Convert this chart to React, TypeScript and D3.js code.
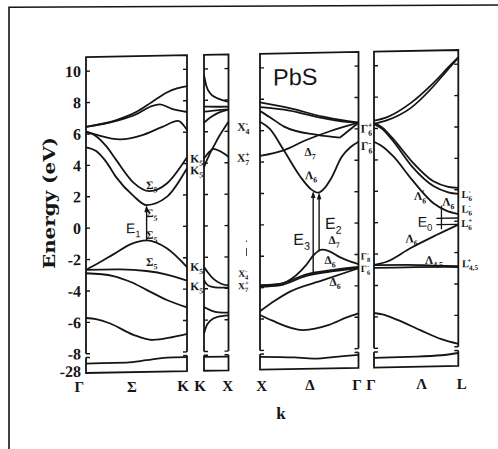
import React from 'react';
import * as d3 from 'd3';

type Pt = [number, number];

// energies in eV, k runs 0..1 across each panel

// Γ → Σ → K
const gkBands: Pt[][] = [
  [[0, 6.46], [0.3, 6.85], [0.5, 7.35], [0.65, 7.95], [0.8, 8.55], [0.9, 8.8], [1, 8.93]],
  [[0, 6.46], [0.3, 6.8], [0.5, 7.2], [0.65, 7.7], [0.73, 7.8], [0.85, 7.5], [1, 7.28]],
  [[0, 6.15], [0.1, 5.95], [0.34, 5.62], [0.55, 5.85], [0.75, 6.35], [0.91, 6.72], [1, 6.13]],
  [[0, 6.15], [0.1, 5.85], [0.2, 5.2], [0.3, 4.3], [0.47, 2.85], [0.63, 2.28], [0.8, 2.75], [1, 4.4]],
  [[0, 5.15], [0.1, 4.9], [0.2, 4.2], [0.3, 3.2], [0.47, 2.0], [0.6, 1.4], [0.8, 1.9], [1, 3.7]],
  [[0, -2.66], [0.12, -2.25], [0.27, -1.7], [0.45, -1.05], [0.6, -0.85], [0.8, -1.38], [1, -2.6]],
  [[0, -2.66], [0.3, -2.66], [0.6, -2.8], [0.8, -3.05], [1, -3.46]],
  [[0, -2.87], [0.27, -3.08], [0.45, -3.5], [0.6, -4.0], [0.8, -4.67], [1, -5.16]],
  [[0, -5.72], [0.1, -5.8], [0.24, -6.1], [0.47, -6.85], [0.66, -7.2], [0.85, -7.05], [1, -6.85]],
];
const gkCore: Pt[] = [[0, -27.37], [0.4, -27.35], [0.6, -27.2], [0.8, -27.03], [1, -27.02]];

// K → X
const kxBands: Pt[][] = [
  [[0, 9.6], [0.1, 8.9], [0.25, 8.45], [0.5, 8.15], [0.75, 8.0], [1, 7.88]],
  [[0, 7.6], [0.5, 7.58], [1, 7.57]],
  [[0, 7.28], [0.5, 7.35], [1, 7.4]],
  [[0, 6.58], [0.3, 6.95], [0.6, 7.2], [1, 7.38]],
  [[0, 4.3], [0.18, 4.65], [0.31, 4.85], [0.6, 5.65], [1, 6.61]],
  [[0, 3.75], [0.15, 4.3], [0.38, 4.9], [0.65, 4.75], [1, 4.38]],
  [[0, -2.62], [0.15, -2.95], [0.4, -3.4], [0.7, -3.7], [1, -3.82]],
  [[0, -3.46], [0.1, -3.7], [0.3, -3.88], [0.6, -3.95], [1, -3.96]],
  [[0, -5.16], [0.3, -5.4], [0.6, -5.52], [1, -5.55]],
  [[0, -6.85], [0.08, -6.45], [0.25, -6.05], [0.55, -5.8], [1, -5.72]],
];
const kxCore: Pt[] = [[0, -27.02], [1, -27.04]];

// X → Δ → Γ
const xgBands: Pt[][] = [
  [[0, 7.8], [0.3, 7.4], [0.64, 6.82], [0.85, 6.55], [1, 6.39]],
  [[0, 7.5], [0.3, 7.25], [0.64, 6.72], [0.85, 6.48], [1, 6.39]],
  [[0, 7.25], [0.1, 6.85], [0.24, 6.25], [0.58, 5.66], [0.81, 5.46]],
  [[0.81, 5.46], [1, 6.39]],
  [[0, 6.57], [0.1, 6.1], [0.24, 4.74], [0.41, 3.02], [0.52, 2.2], [0.59, 1.98], [0.66, 2.3], [0.72, 2.85], [0.83, 4.24], [0.92, 4.85], [1, 5.18]],
  [[0, 4.4], [0.24, 4.72], [0.47, 5.35], [0.71, 5.88], [1, 6.39]],
  [[0, -3.85], [0.2, -3.78], [0.47, -3.2], [0.75, -2.95], [1, -2.8]],
  [[0, -3.95], [0.2, -3.88], [0.47, -3.3], [0.75, -3.03], [1, -2.88]],
  [[0, -3.85], [0.15, -3.83], [0.27, -3.65], [0.47, -2.6], [0.55, -1.95], [0.63, -1.65], [0.7, -1.75], [0.81, -2.15], [0.92, -2.45], [1, -2.62]],
  [[0, -5.5], [0.15, -4.85], [0.3, -4.3], [0.64, -3.6], [1, -2.88]],
  [[0, -5.74], [0.12, -6.1], [0.44, -6.75], [0.7, -6.45], [0.88, -6.0], [1, -5.75]],
];
const xgCore: Pt[] = [[0, -27.1], [0.35, -27.2], [0.55, -27.32], [0.8, -27.2], [1, -27.1]];

// Γ → Λ → L
const glBands: Pt[][] = [
  [[0, 6.5], [0.15, 6.7], [0.43, 7.56], [0.7, 8.81], [0.88, 9.8], [1, 10.45]],
  [[0, 6.3], [0.15, 6.5], [0.43, 7.24], [0.7, 8.59], [0.88, 9.7], [1, 10.4]],
  [[0, 6.35], [0.1, 6.05], [0.23, 5.3], [0.45, 3.85], [0.71, 2.55], [0.88, 2.2], [1, 2.12]],
  [[0, 6.3], [0.1, 5.95], [0.23, 5.15], [0.45, 3.55], [0.71, 2.25], [0.88, 1.85], [1, 1.73]],
  [[0, 5.16], [0.1, 4.85], [0.23, 4.2], [0.45, 2.7], [0.71, 1.15], [0.85, 0.7], [1, 0.45]],
  [[0, -2.69], [0.15, -2.5], [0.43, -1.67], [0.74, -0.86], [1, -0.22]],
  [[0, -2.7], [0.4, -2.72], [0.7, -2.8], [1, -2.86]],
  [[0, -2.88], [0.5, -2.88], [1, -2.92]],
  [[0, -5.75], [0.1, -5.85], [0.27, -6.2], [0.55, -6.9], [0.8, -7.5], [1, -7.82]],
];
const glCore: Pt[] = [[0, -27.35], [0.5, -27.32], [0.8, -27.25], [1, -27.1]];

// optical transitions: panel, k, lower and upper energy
const transitions = [
  { name: 'E1', panel: 0, k: 0.6, from: -0.85, to: 1.4 },
  { name: 'E3', panel: 2, k: 0.54, from: -3.2, to: 2.1 },
  { name: 'E2', panel: 2, k: 0.6, from: -1.7, to: 2.0 },
];
const e0Levels = [0.2, -0.2];

const yTicks = [-8, -6, -4, -2, 0, 2, 4, 6, 8, 10];
const coreTick = -28;
const kLabels = ['Γ', 'Σ', 'K', 'K', 'X', 'X', 'Δ', 'Γ', 'Γ', 'Λ', 'L'];
const kLabelX = [79.3, 132, 183, 200, 227.7, 261.7, 310, 357, 371, 421.7, 461.7];

// symmetry labels (text, subscript, superscript, x, y)
const notes: { t: string; sub?: string; sup?: string; x: number; y: number; sans?: boolean; fs?: number }[] = [
  { t: 'Σ', sub: '5', x: 151.7, y: 186.3 },
  { t: 'Σ', sub: '5', x: 151.7, y: 214.5 },
  { t: 'Σ', sub: '5', x: 151.7, y: 236.2 },
  { t: 'Σ', sub: '5', x: 151.7, y: 263 },
  { t: 'E', sub: '1', x: 133.3, y: 229.2, sans: true, fs: 14 },
  { t: 'K', sub: '5', x: 196.7, y: 160.4 },
  { t: 'K', sub: '5', x: 196.7, y: 172.1 },
  { t: 'K', sub: '5', x: 196.7, y: 268.8 },
  { t: 'K', sub: '5', x: 196.7, y: 288.1 },
  { t: 'X', sub: '4', sup: '-', x: 243.3, y: 129.7 },
  { t: 'X', sub: '7', sup: '+', x: 243.3, y: 160.7 },
  { t: 'X', sub: '4', sup: '-', x: 243.3, y: 276.3, fs: 9.5 },
  { t: 'X', sub: '7', sup: '+', x: 243.3, y: 288.8, fs: 9.5 },
  { t: 'Δ', sub: '7', x: 310, y: 156 },
  { t: 'Λ', sub: '6', x: 311, y: 179.3 },
  { t: 'E', sub: '2', x: 333.3, y: 228, sans: true, fs: 16 },
  { t: 'E', sub: '3', x: 301.7, y: 243.4, sans: true, fs: 16 },
  { t: 'Δ', sub: '7', x: 334, y: 244.7 },
  { t: 'Δ', sub: '6', x: 330, y: 264.6 },
  { t: 'Δ', sub: '6', x: 335, y: 286.4 },
  { t: 'Γ', sub: '6', sup: '+', x: 366.7, y: 133.6 },
  { t: 'Γ', sub: '6', sup: '-', x: 366.7, y: 151.3 },
  { t: 'Γ', sub: '8', sup: '-', x: 365.5, y: 261.3, fs: 9.5 },
  { t: 'Γ', sub: '6', sup: '-', x: 365.5, y: 274, fs: 9.5 },
  { t: 'Λ', sub: '6', sup: "'", x: 420, y: 202.3 },
  { t: 'Λ', sub: '6', x: 448.3, y: 208.6 },
  { t: 'L', sub: '6', sup: '-', x: 466.7, y: 201.5, fs: 10.5 },
  { t: 'L', sub: '6', sup: '-', x: 466.7, y: 216, fs: 10.5 },
  { t: 'E', sub: '0', x: 425, y: 228.1, sans: true, fs: 14 },
  { t: 'L', sub: '6', sup: '+', x: 466.7, y: 230.5, fs: 10.5 },
  { t: 'Λ', sub: '6', x: 411.7, y: 244.5 },
  { t: 'Λ', sub: '4,5', x: 434, y: 266.5 },
  { t: 'L', sub: '4,5', sup: '+', x: 470, y: 270.6, fs: 10.5 },
];

const panels = [
  { x0: 86, x1: 187, bands: gkBands, core: gkCore },
  { x0: 204, x1: 228.5, bands: kxBands, core: kxCore },
  { x0: 260, x1: 358.5, bands: xgBands, core: xgCore },
  { x0: 374, x1: 458.3, bands: glBands, core: glCore },
];

const INK = '#151515';
const SERIF = '"Liberation Serif", "DejaVu Serif", serif';
const SANS = '"Liberation Sans", Arial, sans-serif';

const yMain = d3.scaleLinear().domain([-8, 10.9]).range([353.8, 57.1]);
const yCore = d3.scaleLinear().domain([-28.1, -26.9]).range([373, 357.5]);

const shear = 0.019;

export default function App() {
  return (
    <svg width={498} height={449} style={{ position: 'absolute', left: 0, top: 0, background: '#fff' }}>
      <polyline points="9,470 9,7.3 498,5" fill="none" stroke={INK} strokeWidth={1.6} />
      <g transform={`translate(0,${shear * 86}) skewY(${(-Math.atan(shear) * 180) / Math.PI})`}>
        {panels.map((p, i) => {
          const x = d3.scaleLinear().domain([0, 1]).range([p.x0, p.x1]);
          const line = d3.line<Pt>().x(d => x(d[0])).y(d => yMain(d[1])).curve(d3.curveMonotoneX);
          const coreLine = d3.line<Pt>().x(d => x(d[0])).y(d => yCore(d[1])).curve(d3.curveMonotoneX);
          const top = yMain(10.9);
          const bot = yMain(-8);
          return (
            <g key={i} fill="none" stroke={INK}>
              <path d={`M${p.x0},${bot}V${top}H${p.x1}V${bot}`} strokeWidth={1.8} />
              <path d={`M${p.x0},${yCore(-26.9)}V${yCore(-28.1)}H${p.x1}V${yCore(-26.9)}`} strokeWidth={1.8} />
              {[p.x0, p.x1].map((xx, j) => (
                <line key={'c' + j} x1={xx} x2={xx + (j ? -4 : 4)} y1={yCore(-26.9)} y2={yCore(-26.9)} strokeWidth={1.5} />
              ))}
              {yTicks.map(v => (
                <g key={v} strokeWidth={1.4}>
                  <line x1={p.x0} x2={p.x0 + 4} y1={yMain(v)} y2={yMain(v)} />
                  <line x1={p.x1} x2={p.x1 - 4} y1={yMain(v)} y2={yMain(v)} />
                </g>
              ))}
              {p.bands.map((b, j) => (
                <path key={j} d={line(b) ?? ''} strokeWidth={1.8} />
              ))}
              <path d={coreLine(p.core) ?? ''} strokeWidth={1.8} />
            </g>
          );
        })}

        {transitions.map(t => {
          const p = panels[t.panel];
          const xx = d3.scaleLinear().domain([0, 1]).range([p.x0, p.x1])(t.k);
          const y1 = yMain(t.to);
          return (
            <g key={t.name}>
              <line x1={xx} x2={xx} y1={yMain(t.from)} y2={y1 + 3} stroke={INK} strokeWidth={1.4} />
              <path d={`M${xx},${y1}L${xx - 2.3},${y1 + 7}L${xx + 2.3},${y1 + 7}Z`} fill={INK} />
            </g>
          );
        })}

        {(() => {
          const p = panels[3];
          const x = d3.scaleLinear().domain([0, 1]).range([p.x0, p.x1]);
          return (
            <g stroke={INK} strokeWidth={1.3}>
              {e0Levels.map(v => (
                <line key={v} x1={x(0.74)} x2={x(1)} y1={yMain(v)} y2={yMain(v)} />
              ))}
              <line x1={x(0.8)} x2={x(0.8)} y1={yMain(1.0)} y2={yMain(-0.5)} />
            </g>
          );
        })()}

        <g fontFamily={SERIF} fontWeight="bold" fontSize={16} fill={INK} textAnchor="end">
          {yTicks.map(v => (
            <text key={v} x={81} y={yMain(v) + 5.5}>{v}</text>
          ))}
          <text x={81} y={yCore(coreTick) + 5}>{coreTick}</text>
        </g>

        <text x={273} y={89} fontFamily={SANS} fontSize={23.5} fill={INK}>PbS</text>

        {notes.map((a, i) => {
          const fs = a.fs ?? 11.5;
          const ss = fs * 0.68;
          return (
            <text
              key={i}
              x={a.x}
              y={a.y + fs * 0.35}
              textAnchor="middle"
              fontFamily={a.sans ? SANS : SERIF}
              fontWeight={a.sans ? 'normal' : 'bold'}
              fontSize={fs}
              fill={INK}
            >
              {a.t}
              {a.sub && <tspan fontSize={ss} dy={fs * 0.3}>{a.sub}</tspan>}
              {a.sup && (
                <tspan fontSize={ss} dx={-ss * 0.5 * (a.sub ?? '').length} dy={-fs * 0.7}>{a.sup}</tspan>
              )}
            </text>
          );
        })}
      </g>

      <g fontFamily={SERIF} fontWeight="bold" fontSize={15} fill={INK} textAnchor="middle">
        {kLabels.map((l, i) => (
          <text key={i} x={kLabelX[i]} y={386.7 - 0.0089 * (kLabelX[i] - 79) + 5.5}>{l}</text>
        ))}
        <text x={281} y={418.5} fontSize={17}>k</text>
      </g>

      <text
        transform="translate(54.5,203) rotate(-90)"
        textAnchor="middle"
        fontFamily={'"DejaVu Serif", serif'}
        fontWeight="bold"
        fontSize={17}
        textLength={132}
        lengthAdjust="spacingAndGlyphs"
        fill={INK}
      >
        Energy (eV)
      </text>

      <g stroke="#444" strokeWidth={1}>
        <line x1={246.5} x2={246.5} y1={248} y2={256} />
        <line x1={246.5} x2={246.5} y1={240.5} y2={242} />
      </g>
    </svg>
  );
}
